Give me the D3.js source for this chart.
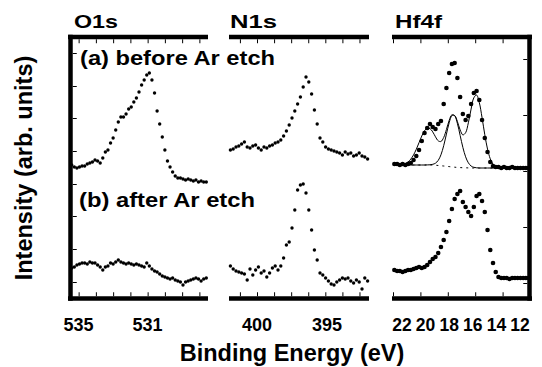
<!DOCTYPE html>
<html>
<head>
<meta charset="utf-8">
<script src="https://cdn.jsdelivr.net/npm/d3@7"></script>
<style>
  body { margin: 0; background: #fff; }
  svg { display: block; }
  text { font-family: "Liberation Sans", Arial, sans-serif; font-weight: bold; fill: #000; }
</style>
</head>
<body>
<div id="chart"></div>
<script>
// ---- data (binding energy in eV, intensity in arbitrary units) ----
const o1sEnergy = [535.40, 535.25, 535.10, 534.95, 534.80, 534.65, 534.50, 534.35, 534.20, 534.05,
  533.90, 533.75, 533.60, 533.45, 533.30, 533.15, 533.00, 532.85, 532.70, 532.55,
  532.40, 532.25, 532.10, 531.95, 531.80, 531.65, 531.50, 531.35, 531.20, 531.05,
  530.90, 530.75, 530.60, 530.45, 530.30, 530.15, 530.00, 529.85, 529.70, 529.55,
  529.40, 529.25, 529.10, 528.95, 528.80, 528.65, 528.50, 528.35, 528.20, 528.05,
  527.90, 527.75, 527.60];
const o1sBefore = [133, 131, 130, 131, 132, 132, 134, 135, 136, 138,
  137, 135, 140, 146, 148, 155, 160, 168, 176, 181,
  181, 184, 189, 191, 196, 200, 206, 213, 218, 223,
  225, 218, 205, 187, 174, 161, 148, 137, 131, 126,
  122, 120, 120, 119, 118, 119, 118, 117, 118, 116,
  117, 116, 116];
const o1sAfter = [30, 31, 33, 34, 35, 35, 34, 36, 35, 35,
  33, 31, 28, 31, 32, 35, 34, 36, 38, 36,
  35, 34, 35, 34, 33, 34, 33, 32, 31, 35,
  32, 29, 27, 26, 24, 22, 21, 20, 19, 20,
  18, 17, 16, 13, 16, 17, 18, 19, 20, 19,
  17, 19, 20];

const n1sEnergy = [401.9, 401.7, 401.5, 401.3, 401.1, 400.9, 400.7, 400.5, 400.3, 400.1,
  399.9, 399.7, 399.5, 399.3, 399.1, 398.9, 398.7, 398.5, 398.3, 398.1,
  397.9, 397.7, 397.5, 397.3, 397.1, 396.9, 396.7, 396.5, 396.3, 396.1,
  395.9, 395.7, 395.5, 395.3, 395.1, 394.9, 394.7, 394.5, 394.3, 394.1,
  393.9, 393.7, 393.5, 393.3, 393.1, 392.9, 392.7, 392.5, 392.3, 392.1];
const n1sBefore = [148, 149, 151, 152, 154, 156, 151, 150, 152, 153,
  150, 148, 151, 150, 152, 153, 155, 156, 158, 162,
  167, 173, 180, 187, 194, 201, 211, 221, 216, 204,
  188, 174, 160, 156, 151, 149, 148, 147, 146, 145,
  143, 146, 144, 145, 142, 143, 145, 142, 141, 139];
const n1sAfter = [32, 29, 27, 26, 25, 24, 18, 29, 23, 28,
  31, 25, 27, 21, 25, 30, 32, 28, 32, 40,
  53, 56, 70, 88, 108, 113, 114, 105, 88, 68,
  48, 38, 25, 23, 20, 17, 14, 13, 16, 18,
  20, 19, 20, 17, 15, 18, 16, 9, 20, 17];

const hfEnergy = [21.9, 21.7, 21.5, 21.3, 21.1, 20.9, 20.7, 20.5, 20.3, 20.1,
  19.9, 19.7, 19.5, 19.3, 19.1, 18.9, 18.7, 18.5, 18.3, 18.1,
  17.9, 17.7, 17.5, 17.3, 17.1, 16.9, 16.7, 16.5, 16.3, 16.1,
  15.9, 15.7, 15.5, 15.3, 15.1, 14.9, 14.7, 14.5, 14.3, 14.1,
  13.9, 13.7, 13.5, 13.3, 13.1, 12.9, 12.7, 12.5, 12.3, 12.1];
const hfBefore = [134, 134, 133, 134, 133, 134, 135, 138, 142, 148,
  157, 165, 170, 174, 171, 169, 174, 177, 194, 210,
  225, 234, 235, 220, 201, 184, 178, 182, 194, 205,
  207, 198, 178, 160, 146, 136, 132, 131, 131, 130,
  131, 130, 130, 131, 130, 130, 130, 130, 130, 130];
const hfAfter = [28, 27, 27, 26, 27, 28, 28, 29, 30, 31,
  30, 31, 33, 36, 39, 41, 45, 51, 58, 66,
  77, 89, 99, 104, 107, 96, 91, 86, 82, 91,
  102, 104, 97, 86, 68, 48, 35, 26, 21, 20,
  20, 20, 19, 20, 20, 20, 20, 20, 20, 20];
// fitted components of (a), drawn on the background
const hfFit1 = [133, 133.1, 133.3, 133.7, 134.5, 136.1, 138.9, 143.1, 148.7, 155.3,
  162.0, 167.2, 169.9, 169.4, 166.1, 161.2, 157.2, 156.5, 160.5, 168.5,
  177.6, 183.2, 182.3, 174.6, 162.6, 150.6, 141.2, 135.2, 132.0, 130.7,
  130.2, 130, 130, 130, 130, 130, 130, 130, 130, 130,
  130, 130, 130, 130, 130, 130, 130, 130, 130, 130];
const hfFit2 = [133, 133, 133, 133, 133, 133, 133, 133, 133, 133,
  133, 133, 133.1, 133.2, 133.7, 134.8, 137.6, 143.2, 152.3, 163.9,
  175.2, 182.3, 182.5, 176.5, 168.1, 163.1, 165.3, 175.2, 188.9, 200.2,
  203.0, 195.4, 180.4, 163.3, 148.9, 139.2, 133.8, 131.4, 130.4, 130.1,
  130, 130, 130, 130, 130, 130, 130, 130, 130, 130];
const hfBackground = [133, 133, 133, 133, 133, 133, 133, 133, 133, 133,
  133, 133, 133, 133, 133, 132.8, 132.5, 132.2, 132.0, 131.7,
  131.4, 131.1, 130.8, 130.6, 130.4, 130.3, 130.2, 130.1, 130, 130,
  130, 130, 130, 130, 130, 130, 130, 130, 130, 130,
  130, 130, 130, 130, 130, 130, 130, 130, 130, 130];

// ticks and tick labels
const o1sTicks = [535, 534, 533, 532, 531, 530, 529, 528];
const o1sLabels = [535, 531];
const n1sTicks = [401.22, 400, 398.78, 397.56, 396.34, 395.12, 393.9, 392.68];
const n1sLabels = [400, 395];
const hfTicks = [22, 20, 18, 16, 14];
const hfLabels = ["22", "20", "18", "16", "14", "12"];
const leftTicks = [16, 49, 82, 114, 147, 180, 212, 245];
const rightTicks = [15, 71, 127, 183, 239];

// ---- layout ----
const W = 542, H = 367;
const frameTop = 37, frameBottom = 298.5, border = 4.5;

const svg = d3.select("#chart").append("svg")
  .attr("width", W).attr("height", H);

const y = d3.scaleLinear().domain([0, 262]).range([298, 36]);

const panels = [
  { title: "O1s", titleX: 74, titleW: 44, x0: 70, x1: 208, bx0: 68, bx1: 208, domain: [535.5, 527.5],
    energy: o1sEnergy, series: [o1sBefore, o1sAfter], ticks: o1sTicks, r: 1.7 },
  { title: "N1s", titleX: 230, titleW: 47, x0: 229, x1: 369, bx0: 229, bx1: 369, domain: [402, 392],
    energy: n1sEnergy, series: [n1sBefore, n1sAfter], ticks: n1sTicks, r: 1.7 },
  { title: "Hf4f", titleX: 395, titleW: 47, x0: 393, x1: 530, bx0: 392, bx1: 532, domain: [22, 12],
    energy: hfEnergy, series: [hfBefore, hfAfter], ticks: hfTicks, r: 2.3 }
];

panels.forEach(p => {
  p.x = d3.scaleLinear().domain(p.domain).range([p.x0, p.x1]);
  const g = svg.append("g");

  // top / bottom frame lines
  [frameTop, frameBottom].forEach(yy => {
    g.append("line")
      .attr("x1", p.bx0).attr("x2", p.bx1)
      .attr("y1", yy).attr("y2", yy)
      .attr("stroke", "#000").attr("stroke-width", border);
  });

  // inward ticks, top and bottom
  g.append("g")
    .attr("transform", `translate(0,${frameTop + border / 2})`)
    .call(d3.axisTop(p.x).tickValues(p.ticks).tickSize(-4).tickFormat(""))
    .call(a => a.select(".domain").remove());
  g.append("g")
    .attr("transform", `translate(0,${frameBottom - border / 2})`)
    .call(d3.axisBottom(p.x).tickValues(p.ticks).tickSize(-4).tickFormat(""))
    .call(a => a.select(".domain").remove());

  g.append("text")
    .attr("x", p.titleX).attr("y", 28)
    .attr("font-size", 19)
    .attr("textLength", p.titleW).attr("lengthAdjust", "spacingAndGlyphs")
    .text(p.title);
});

const [pO, pN, pH] = panels;

// left frame of O1s and right frame of Hf4f
svg.append("line")
  .attr("x1", 70.5).attr("x2", 70.5).attr("y1", frameTop - border / 2).attr("y2", frameBottom + border / 2)
  .attr("stroke", "#000").attr("stroke-width", border);
svg.append("line")
  .attr("x1", 529.5).attr("x2", 529.5).attr("y1", frameTop - border / 2).attr("y2", frameBottom + border / 2)
  .attr("stroke", "#000").attr("stroke-width", border);

svg.append("g")
  .attr("transform", `translate(${70.5 + border / 2},0)`)
  .call(d3.axisLeft(y).tickValues(leftTicks).tickSize(-4).tickFormat(""))
  .call(a => a.select(".domain").remove());
svg.append("g")
  .attr("transform", `translate(${529.5 - border / 2},0)`)
  .call(d3.axisRight(y).tickValues(rightTicks).tickSize(-4).tickFormat(""))
  .call(a => a.select(".domain").remove());

// Hf4f fit: background (dashed) and two components
const hfLine = d3.line()
  .x((d, i) => pH.x(hfEnergy[i]))
  .y(d => y(d))
  .curve(d3.curveCatmullRom);
svg.append("path").datum(hfBackground)
  .attr("d", hfLine).attr("fill", "none")
  .attr("stroke", "#000").attr("stroke-width", 1).attr("stroke-dasharray", "2,4");
[hfFit1, hfFit2].forEach(f => {
  svg.append("path").datum(f)
    .attr("d", hfLine).attr("fill", "none")
    .attr("stroke", "#000").attr("stroke-width", 1);
});

// spectra as dots
panels.forEach(p => {
  p.series.forEach(s => {
    svg.append("g").selectAll("circle")
      .data(s)
      .enter().append("circle")
      .attr("cx", (d, i) => p.x(p.energy[i]))
      .attr("cy", d => y(d))
      .attr("r", p.r)
      .attr("fill", "#000");
  });
});

// tick labels
const labelY = 331;
o1sLabels.forEach(v => {
  svg.append("text").attr("x", pO.x(v)).attr("y", labelY)
    .attr("text-anchor", "middle").attr("font-size", 18).text(v);
});
n1sLabels.forEach(v => {
  svg.append("text").attr("x", pN.x(v)).attr("y", labelY)
    .attr("text-anchor", "middle").attr("font-size", 18).text(v);
});
const hfLabelX = d3.scalePoint().domain(hfLabels).range([402, 520]);
hfLabels.forEach(v => {
  svg.append("text").attr("x", hfLabelX(v)).attr("y", labelY)
    .attr("text-anchor", "middle").attr("font-size", 17.5).text(v);
});

// annotations
svg.append("text").attr("x", 80).attr("y", 65)
  .attr("font-size", 21).attr("textLength", 195).attr("lengthAdjust", "spacingAndGlyphs")
  .text("(a) before Ar etch");
svg.append("text").attr("x", 79).attr("y", 207)
  .attr("font-size", 20.5).attr("textLength", 176).attr("lengthAdjust", "spacingAndGlyphs")
  .text("(b) after Ar etch");

// axis titles
svg.append("text")
  .attr("x", 292).attr("y", 361)
  .attr("text-anchor", "middle").attr("font-size", 23.5)
  .text("Binding Energy (eV)");
svg.append("text")
  .attr("transform", "translate(32,168) rotate(-90)")
  .attr("text-anchor", "middle").attr("font-size", 23.5)
  .text("Intensity (arb. units)");
</script>
</body>
</html>
